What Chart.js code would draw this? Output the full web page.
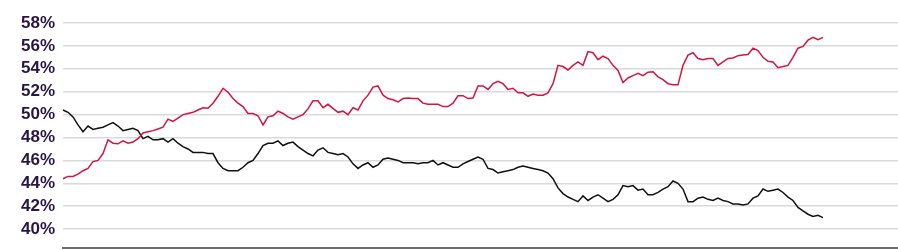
<!DOCTYPE html>
<html>
<head>
<meta charset="utf-8">
<script src="https://cdn.jsdelivr.net/npm/chart.js@4/dist/chart.umd.min.js"></script>
<style>
  html, body { margin: 0; padding: 0; background: #fff; }
  #wrap { width: 898px; height: 250px; }
</style>
</head>
<body>
<div id="wrap"><canvas id="myChart" width="898" height="250"></canvas></div>
<script>
// positions along the x axis (no labels shown), the last 15 are empty space
var categories = Array.from({length: 168}, (_, i) => i + 1);

var yTicks = [40, 42, 44, 46, 48, 50, 52, 54, 56, 58];

// red series
var redValues = [
  44.4, 44.6, 44.6, 44.8, 45.1, 45.3, 45.9, 46.0, 46.6, 47.8,
  47.5, 47.45, 47.7, 47.5, 47.6, 47.9, 48.4, 48.5, 48.6, 48.75,
  48.9, 49.6, 49.4, 49.7, 50.0, 50.1, 50.2, 50.4, 50.6, 50.55,
  51.0, 51.6, 52.3, 51.95, 51.4, 51.0, 50.7, 50.1, 50.1, 49.9,
  49.1, 49.8, 49.9, 50.3, 50.1, 49.8, 49.6, 49.8, 50.0, 50.5,
  51.2, 51.2, 50.6, 50.9, 50.55, 50.2, 50.3, 50.0, 50.6, 50.4,
  51.2, 51.7, 52.4, 52.5, 51.7, 51.4, 51.3, 51.1, 51.4, 51.45,
  51.4, 51.4, 51.0, 50.9, 50.9, 50.9, 50.7, 50.7, 51.0, 51.65,
  51.65, 51.4, 51.45, 52.5, 52.5, 52.2, 52.7, 52.9, 52.7, 52.2,
  52.3, 51.9, 51.9, 51.6, 51.8, 51.7, 51.7, 51.9, 52.7, 54.3,
  54.2, 53.9, 54.3, 54.6, 54.3, 55.5, 55.4, 54.8, 55.1, 54.9,
  54.3, 53.85, 52.8, 53.2, 53.4, 53.6, 53.4, 53.7, 53.75, 53.3,
  53.05, 52.7, 52.6, 52.6, 54.3, 55.2, 55.4, 54.9, 54.8, 54.9,
  54.9, 54.3, 54.6, 54.9, 54.95, 55.15, 55.2, 55.25, 55.8, 55.6,
  55.0, 54.65, 54.6, 54.1, 54.2, 54.3, 55.0, 55.8, 55.95, 56.5,
  56.75, 56.55, 56.75
];

// black series
var blackValues = [
  50.4, 50.2, 49.8, 49.1, 48.5, 49.0, 48.7, 48.8, 48.9, 49.1,
  49.3, 49.0, 48.6, 48.7, 48.8, 48.6, 47.9, 48.1, 47.8, 47.8,
  47.9, 47.6, 47.9, 47.5, 47.2, 47.0, 46.7, 46.7, 46.7, 46.6,
  46.6, 45.8, 45.3, 45.1, 45.1, 45.1, 45.4, 45.8, 46.0, 46.6,
  47.3, 47.5, 47.5, 47.7, 47.3, 47.5, 47.6, 47.2, 46.9, 46.6,
  46.4, 46.9, 47.1, 46.7, 46.6, 46.5, 46.6, 46.3, 45.7, 45.3,
  45.6, 45.8, 45.4, 45.6, 46.1, 46.2, 46.1, 46.0, 45.8, 45.8,
  45.8, 45.7, 45.8, 45.8, 46.0, 45.6, 45.8, 45.6, 45.4, 45.4,
  45.7, 45.9, 46.1, 46.3, 46.1, 45.3, 45.2, 44.9, 45.0, 45.1,
  45.2, 45.4, 45.5, 45.4, 45.3, 45.2, 45.1, 44.9, 44.4, 43.6,
  43.1, 42.8, 42.6, 42.4, 42.9, 42.5, 42.8, 43.0, 42.7, 42.4,
  42.6, 43.0, 43.8, 43.7, 43.8, 43.4, 43.5, 43.0, 43.0, 43.2,
  43.5, 43.7, 44.2, 44.0, 43.5, 42.4, 42.4, 42.7, 42.8, 42.6,
  42.5, 42.7, 42.5, 42.4, 42.2, 42.2, 42.1, 42.2, 42.7, 42.9,
  43.5, 43.3, 43.4, 43.5, 43.2, 42.8, 42.5, 41.9, 41.6, 41.3,
  41.1, 41.2, 41.0
];

const ctx = document.getElementById('myChart');

new Chart(ctx, {
  type: 'line',
  data: {
    labels: categories,
    datasets: [{
      data: redValues,
      borderColor: '#d3153f',
      borderWidth: 1.5,
      pointRadius: 0,
      tension: 0,
      fill: false
    }, {
      data: blackValues,
      borderColor: '#111111',
      borderWidth: 1.5,
      pointRadius: 0,
      tension: 0,
      fill: false
    }]
  },
  options: {
    responsive: false,
    animation: false,
    layout: { padding: { left: 0, right: 0, top: 23, bottom: 2 } },
    plugins: {
      legend: { display: false },
      tooltip: { enabled: false }
    },
    scales: {
      x: {
        grid: { display: false, drawTicks: false },
        ticks: { display: false },
        border: { display: true, color: '#6b6b6b', width: 2 },
        afterFit: function(scale) {
          scale.height = 0;
          scale.paddingLeft = 0;
          scale.paddingRight = 0;
        }
      },
      y: {
        min: 38.35,
        max: 58,
        afterBuildTicks: function(scale) {
          scale.ticks = yTicks.map(v => ({ value: v }));
        },
        afterFit: function(scale) {
          scale.width = 63;
          scale.paddingTop = 0;
          scale.paddingBottom = 0;
        },
        grid: { color: '#dadada', lineWidth: 1.5, drawTicks: false },
        border: { display: false },
        ticks: {
          padding: 8,
          color: '#2a1544',
          font: { family: 'Liberation Sans, Arial, sans-serif', size: 17, weight: 'bold' },
          callback: function(v) { return v + '%'; }
        }
      }
    }
  }
});
</script>
</body>
</html>
